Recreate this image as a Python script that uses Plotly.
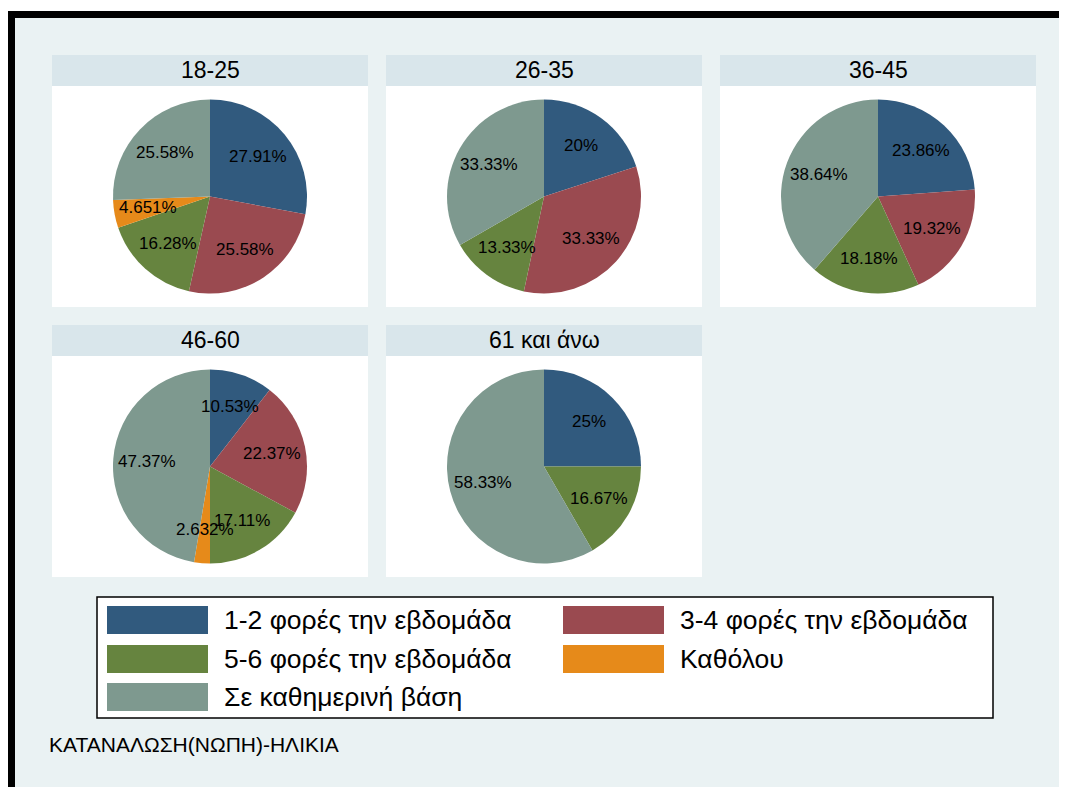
import plotly.graph_objects as go
import math

# ---- data ----
groups = ["18-25", "26-35", "36-45", "46-60", "61 και άνω"]
categories = ["1-2 φορές την εβδομάδα", "3-4 φορές την εβδομάδα",
              "5-6 φορές την εβδομάδα", "Καθόλου", "Σε καθημερινή βάση"]
v_1825 = [27.91, 25.58, 16.28, 4.651, 25.58]
v_2635 = [20, 33.33, 13.33, 0, 33.33]
v_3645 = [23.86, 19.32, 18.18, 0, 38.64]
v_4660 = [10.53, 22.37, 17.11, 2.632, 47.37]
v_61 = [25, 0, 16.67, 0, 58.33]
caption = "ΚΑΤΑΝΑΛΩΣΗ(ΝΩΠΗ)-ΗΛΙΚΙΑ"

colors = ["#315A7E", "#9A4A50", "#66843F", "#E68A1A", "#7E998F"]
series = [v_1825, v_2635, v_3645, v_4660, v_61]

# page has an 8px body margin; figure is sized to fill the rest of the window
OFF = 8
W, H = 1067 - OFF, 787 - OFF
FONT = "Liberation Sans, Arial, sans-serif"


def px(x):
    return (x - OFF) / W


def py(y):
    return 1 - (y - OFF) / H


panel_x = [(52, 368), (386, 702), (720, 1036), (52, 368), (386, 702)]
panel_row = [0, 0, 0, 1, 1]
row_y = [(55, 86, 307), (325, 356, 577)]
R = 97

fig = go.Figure()
shapes = []
annotations = []

# outer frame
shapes.append(dict(type="rect", xref="paper", yref="paper",
                   x0=px(11.5), x1=px(1120), y0=py(14.5), y1=py(840),
                   line=dict(color="black", width=7), fillcolor="#EAF2F3",
                   layer="below"))

for i, (g, vals) in enumerate(zip(groups, series)):
    x0, x1 = panel_x[i]
    s0, s1, s2 = row_y[panel_row[i]]
    shapes.append(dict(type="rect", xref="paper", yref="paper",
                       x0=px(x0), x1=px(x1), y0=py(s1), y1=py(s0),
                       line=dict(width=0), fillcolor="#D9E6EB", layer="below"))
    shapes.append(dict(type="rect", xref="paper", yref="paper",
                       x0=px(x0), x1=px(x1), y0=py(s2), y1=py(s1),
                       line=dict(width=0), fillcolor="white", layer="below"))
    annotations.append(dict(text=g, x=px((x0 + x1) / 2), y=py((s0 + s1) / 2),
                            xref="paper", yref="paper", showarrow=False,
                            xanchor="center", yanchor="middle",
                            font=dict(size=23, color="black", family=FONT)))
    cx = (x0 + x1) / 2
    cy = (s1 + s2) / 2
    fig.add_trace(go.Pie(
        labels=categories, values=vals, sort=False, direction="clockwise",
        rotation=0, textinfo="none", hoverinfo="skip", showlegend=False,
        marker=dict(colors=colors, line=dict(width=0)),
        domain=dict(x=[px(cx - R), px(cx + R)], y=[py(cy + R), py(cy - R)]),
    ))
    total = sum(vals)
    cum = 0.0
    for v in vals:
        if v > 0:
            mid = (cum + v / 2) / total * 2 * math.pi
            lx = cx + 0.65 * R * math.sin(mid)
            ly = cy - 0.65 * R * math.cos(mid)
            annotations.append(dict(text=f"{v:.4g}%", x=px(lx), y=py(ly),
                                    xref="paper", yref="paper", showarrow=False,
                                    xanchor="center", yanchor="middle",
                                    font=dict(size=17, color="black", family=FONT)))
        cum += v

# legend box
shapes.append(dict(type="rect", xref="paper", yref="paper",
                   x0=px(97), x1=px(993), y0=py(718), y1=py(597),
                   line=dict(color="black", width=1.5), fillcolor="white",
                   layer="below"))
leg_cols = [(107, 222), (563, 678)]
leg_rows = [620, 659, 697]
for k, (cat, col) in enumerate(zip(categories, colors)):
    r, c = divmod(k, 2)
    sx, tx = leg_cols[c]
    yc = leg_rows[r]
    shapes.append(dict(type="rect", xref="paper", yref="paper",
                       x0=px(sx), x1=px(sx + 101), y0=py(yc + 14), y1=py(yc - 14),
                       line=dict(width=0), fillcolor=col))
    annotations.append(dict(text=cat, x=px(tx), y=py(yc), xref="paper", yref="paper",
                            showarrow=False, xanchor="left", yanchor="middle",
                            font=dict(size=26.5, color="black", family=FONT)))

annotations.append(dict(text=caption, x=px(47), y=py(744), xref="paper", yref="paper",
                        showarrow=False, xanchor="left", yanchor="middle",
                        font=dict(size=21, color="black", family=FONT)))

fig.update_layout(width=W, height=H, margin=dict(l=0, r=0, t=0, b=0),
                  paper_bgcolor="white", plot_bgcolor="white",
                  shapes=shapes, annotations=annotations, showlegend=False)

fig.write_html("out.html")
